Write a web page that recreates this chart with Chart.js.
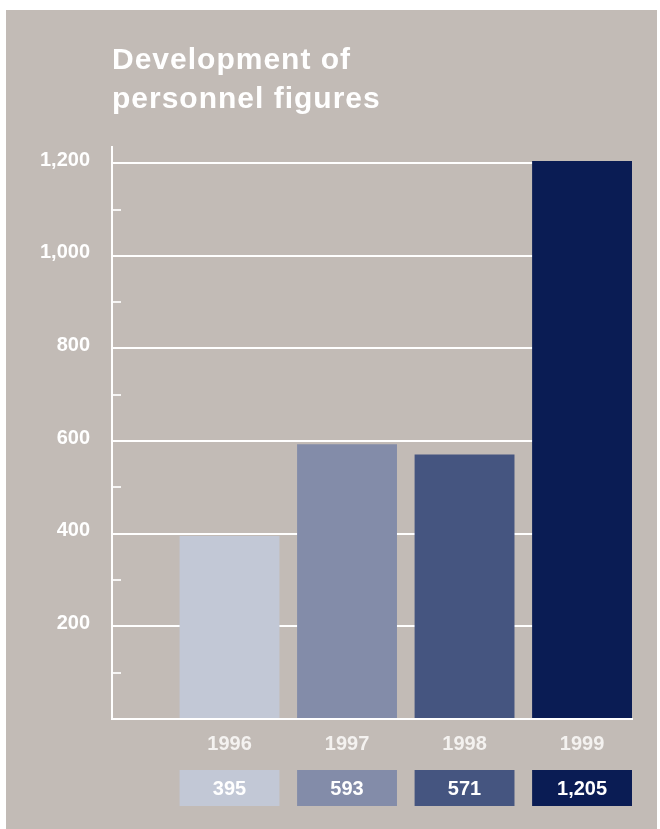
<!DOCTYPE html>
<html>
<head>
<meta charset="utf-8">
<script src="https://cdn.jsdelivr.net/npm/chart.js@4.4.1/dist/chart.umd.min.js"></script>
<style>
  body { margin: 0; background: #fff; }
  canvas { display: block; }
</style>
</head>
<body>
<canvas id="myChart" width="660" height="829"></canvas>
<script>
// data
const years = [1996, 1997, 1998, 1999];
const staff = [395, 593, 571, 1205];
const barColors = ['#c2c8d6', '#838ca9', '#455580', '#0a1c54'];
const yTicks = [0, 200, 400, 600, 800, 1000, 1200];
const minorTicks = [100, 300, 500, 700, 900, 1100];
const titleLines = ['Development of', 'personnel figures'];

const panelColor = '#c2bbb6';
const fontFam = '"Liberation Sans", Arial, Helvetica, sans-serif';

// gray panel behind everything, title, minor ticks and value boxes
const extras = {
  id: 'extras',
  beforeDraw(chart) {
    const ctx = chart.ctx;
    ctx.save();
    ctx.fillStyle = panelColor;
    ctx.fillRect(6, 10, 651, 819);
    ctx.fillStyle = '#fff';
    ctx.font = 'bold 30px ' + fontFam;
    ctx.letterSpacing = '1px';
    ctx.textBaseline = 'alphabetic';
    ctx.textAlign = 'left';
    ctx.fillText(titleLines[0], chart.chartArea.left, 69);
    ctx.fillText(titleLines[1], chart.chartArea.left, 108);
    ctx.restore();
  },
  afterDatasetsDraw(chart) {
    const ctx = chart.ctx;
    const y = chart.scales.y;
    const left = chart.chartArea.left;
    ctx.save();
    ctx.strokeStyle = 'rgba(255,255,255,0.85)';
    ctx.lineWidth = 2;
    minorTicks.forEach(v => {
      const py = Math.round(y.getPixelForValue(v));
      ctx.beginPath();
      ctx.moveTo(left, py);
      ctx.lineTo(left + 9, py);
      ctx.stroke();
    });
    // value boxes under the year labels
    const meta = chart.getDatasetMeta(0);
    ctx.font = 'bold 20px ' + fontFam;
    ctx.textAlign = 'center';
    ctx.textBaseline = 'middle';
    meta.data.forEach((bar, i) => {
      const w = bar.width;
      ctx.fillStyle = barColors[i];
      ctx.fillRect(bar.x - w / 2, 770, w, 36);
      ctx.fillStyle = '#fff';
      ctx.fillText(staff[i].toLocaleString('en-US'), bar.x, 789);
    });
    ctx.restore();
  }
};

new Chart(document.getElementById('myChart'), {
  type: 'bar',
  data: {
    datasets: [{
      data: years.map((yr, i) => ({ x: yr, y: staff[i] })),
      backgroundColor: barColors,
      borderWidth: 0,
      barPercentage: 0.85,
      categoryPercentage: 1
    }]
  },
  options: {
    responsive: false,
    devicePixelRatio: 1,
    animation: false,
    layout: { padding: { top: 147, right: 28, bottom: 0, left: 0 } },
    plugins: { legend: { display: false }, tooltip: { enabled: false } },
    scales: {
      x: {
        type: 'linear',
        offset: false,
        min: 1995,
        max: 1999.425,
        afterBuildTicks: s => { s.ticks = years.map(v => ({ value: v })); },
        afterFit: s => { s.height = 110; },
        grid: { display: false, drawTicks: false },
        border: { display: true, color: '#fff', width: 2 },
        ticks: {
          color: '#f4f2f0',
          padding: 13,
          font: { family: fontFam, size: 20, weight: 'bold' },
          callback: v => String(v)
        }
      },
      y: {
        min: 0,
        max: 1235,
        afterBuildTicks: s => { s.ticks = yTicks.map(v => ({ value: v })); },
        afterFit: s => { s.width = 112; },
        grid: { color: '#fff', lineWidth: 2, drawTicks: false },
        border: { display: true, color: '#fff', width: 2 },
        ticks: {
          color: '#fff',
          padding: 22,
          labelOffset: -3,
          font: { family: fontFam, size: 20, weight: 'bold' },
          callback: v => v === 0 ? '' : v.toLocaleString('en-US')
        }
      }
    }
  },
  plugins: [extras]
});
</script>
</body>
</html>
